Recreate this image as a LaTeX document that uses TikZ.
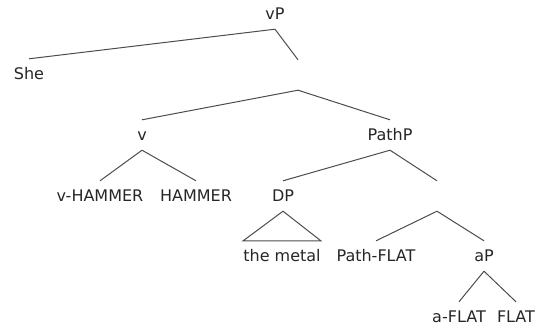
\documentclass[tikz,border=0pt]{standalone}
\usepackage{fontspec}
\setmainfont{DejaVu Sans}
\begin{document}
\begin{tikzpicture}[x=1pt,y=-1pt,
  lab/.style={inner sep=0pt,minimum height=30pt,text height=11pt,text depth=0pt,text=black!85,font=\fontsize{16}{18}\selectfont},
  emp/.style={inner sep=0pt,minimum height=30pt,minimum width=0pt},
  br/.style={draw=black!70,line width=1pt}]
\useasboundingbox (0,0) rectangle (535,327);
\node[lab] (vP) at (275,14) {vP};
\node[lab] (She) at (29,74) {She};
\node[emp] (e1) at (298,75) {};
\node[lab] (v) at (142,135) {v};
\node[lab] (PathP) at (390,135) {PathP};
\node[lab] (vH) at (100,196) {v-HAMMER};
\node[lab] (H) at (196,196) {HAMMER};
\node[lab] (DP) at (283,196) {DP};
\node[emp] (e2) at (437,196) {};
\node[lab] (metal) at (282,256) {the metal};
\node[lab] (PF) at (376,256) {Path-FLAT};
\node[lab] (aP) at (484,256) {aP};
\node[lab] (aF) at (459,317) {a-FLAT};
\node[lab] (F) at (516,317) {FLAT};
\draw[br] (vP.south) -- (She.north);
\draw[br] (vP.south) -- (e1.north);
\draw[br] (e1.south) -- (v.north);
\draw[br] (e1.south) -- (PathP.north);
\draw[br] (v.south) -- (vH.north);
\draw[br] (v.south) -- (H.north);
\draw[br] (PathP.south) -- (DP.north);
\draw[br] (PathP.south) -- (e2.north);
\draw[br] (DP.south) -- (metal.north west) -- (metal.north east) -- cycle;
\draw[br] (e2.south) -- (PF.north);
\draw[br] (e2.south) -- (aP.north);
\draw[br] (aP.south) -- (aF.north);
\draw[br] (aP.south) -- (F.north);
\end{tikzpicture}
\end{document}
